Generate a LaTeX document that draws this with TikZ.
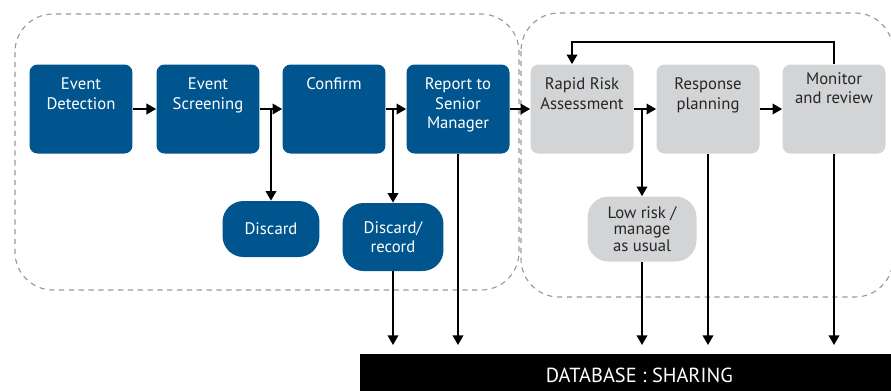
\documentclass[tikz,border=0pt]{standalone}
\usepackage{fontspec}
\setmainfont{PT Sans}
\usetikzlibrary{arrows.meta}
\definecolor{stageblue}{HTML}{00558F}
\definecolor{stagegray}{HTML}{D3D4D6}
\definecolor{zonegray}{HTML}{9A9A9A}
\newcommand{\toptext}[1]{\parbox[c][1.24cm][t]{1.95cm}{\centering #1}}

\begin{document}
\begin{tikzpicture}[x=0.02cm, y=-0.02cm, font=\fontsize{9.5}{11}\selectfont,
  bluestage/.style={fill=stageblue, text=white, rounded corners=0.16cm, minimum width=2.06cm, minimum height=1.78cm, inner sep=0pt},
  graystage/.style={bluestage, fill=stagegray, text=black!85},
  blueend/.style={fill=stageblue, text=white, rounded corners=0.42cm, inner sep=0pt, align=center},
  grayend/.style={blueend, fill=stagegray, text=black!85},
  zone/.style={dash pattern=on 3pt off 2.6pt, color=zonegray, line width=0.65pt, rounded corners=0.76cm},
  link/.style={line width=1.1pt, -{Triangle[length=5.5pt,width=6pt]}}]
\useasboundingbox (0,0) rectangle (891,390);
%%%%% Zones %%%%%
\draw[zone] (15,14) rectangle (519,290);
\draw[zone] (521,13) rectangle (893,297);
%%%%% Stages %%%%%
\node[bluestage] (det) at (81,109) {\toptext{Event\\Detection}};
\node[bluestage] (scr) at (208,109) {\toptext{Event\\Screening}};
\node[bluestage] (conf) at (334,109) {\toptext{Confirm}};
\node[bluestage] (rep) at (458,109) {\toptext{Report to\\Senior\\Manager}};
\node[graystage] (rra) at (582,109) {\toptext{Rapid Risk\\Assessment}};
\node[graystage] (rp) at (708,109) {\toptext{Response\\planning}};
\node[graystage] (mon) at (834,109) {\toptext{\vspace*{-3pt}Monitor\\and review}};
%%%%% Ends %%%%%
\node[blueend, minimum width=1.94cm, minimum height=1.12cm] (dis) at (271,229) {Discard};
\node[blueend, minimum width=2.02cm, minimum height=1.36cm] (dr) at (393,237) {Discard/\\record};
\node[grayend, minimum width=2.18cm, minimum height=1.3cm, font=\fontsize{9.5}{9.3}\selectfont] (low) at (642,229) {Low risk /\\manage\\as usual};
\node[fill=black, text=white, font=\fontsize{11.6}{13}\selectfont, anchor=north west, minimum width=11.16cm, minimum height=0.84cm] (db) at (360,354) {DATABASE : SHARING};
%%%%% Links %%%%%
\foreach \a/\b in {det/scr, scr/conf, conf/rep, rep/rra, rra/rp, rp/mon}{
\draw[link] (\a.east) -- (\b.west);
}
\draw[link] (dis.north |- scr.east) -- (dis.north);
\draw[link] (dr.north |- conf.east) -- (dr.north);
\draw[link] (low.north |- rra.east) -- (low.north);
\coordinate (back) at ([xshift=-0.2cm]rra.north);
\draw[link] (mon.north) |- ([yshift=0.44cm]back) -- (back);
% down to the database
\foreach \n in {dr, rep, low, rp, mon}{
\draw[link, shorten >=0.18cm] (\n.south) -- (\n.south |- db.north);
}
\end{tikzpicture}
\end{document}
